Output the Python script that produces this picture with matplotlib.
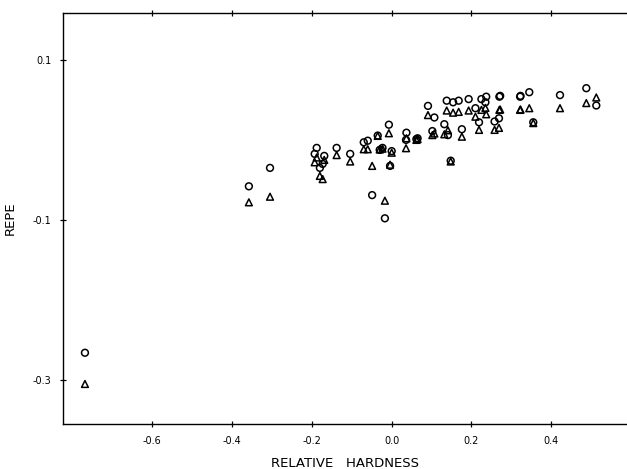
import matplotlib
matplotlib.use("Agg")
import matplotlib.pyplot as plt

# relative hardness of each compound, with the two REPE estimates
hardness = [-0.769, -0.358, -0.305, -0.188, -0.193, -0.180, -0.173, -0.169,
            -0.138, -0.104, -0.070, -0.060, -0.035, -0.007, -0.030, -0.023,
            0.000, -0.049, -0.017, -0.004, 0.037, 0.036, 0.062, 0.065,
            0.091, 0.107, 0.102, 0.138, 0.154, 0.168, 0.132, 0.141,
            0.148, 0.176, 0.193, 0.210, 0.219, 0.225, 0.237, 0.235,
            0.258, 0.269, 0.270, 0.272, 0.322, 0.323, 0.345, 0.355,
            0.422, 0.488, 0.513]
repe_circle = [-0.266, -0.058, -0.035, -0.010, -0.0175, -0.035, -0.030, -0.020,
               -0.010, -0.0175, -0.003, -0.001, 0.0054, 0.019, -0.0125, -0.010,
               -0.014, -0.069, -0.098, -0.0325, 0.009, 0.000, 0.001, 0.002,
               0.0425, 0.028, 0.011, 0.049, 0.047, 0.049, 0.0196, 0.006,
               -0.026, 0.0133, 0.051, 0.0396, 0.022, 0.051, 0.054, 0.047,
               0.023, 0.027, 0.054, 0.055, 0.054, 0.055, 0.0596, 0.022,
               0.056, 0.0646, 0.043]
repe_triangle = [-0.305, -0.078, -0.071, -0.022, -0.028, -0.045, -0.049, -0.025,
                 -0.019, -0.027, -0.0117, -0.0117, 0.005, 0.0083, -0.012, -0.011,
                 -0.016, -0.0325, -0.076, -0.031, 0.002, -0.0104, 0.000, 0.001,
                 0.031, 0.008, 0.006, 0.0367, 0.034, 0.035, 0.007, 0.012,
                 -0.027, 0.004, 0.0367, 0.029, 0.0125, 0.0375, 0.032, 0.040,
                 0.0125, 0.015, 0.0375, 0.038, 0.0375, 0.038, 0.0396, 0.021,
                 0.0396, 0.046, 0.053]

xticks = [-0.6, -0.4, -0.2, 0.0, 0.2, 0.4]
xtick_labels = ["-0.6", "-0.4", "-0.2", "0.0", "0.2", "0.4"]
yticks = [0.1, -0.1, -0.3]
ytick_labels = ["0.1", "-0.1", "-0.3"]

fig = plt.figure(figsize=(6.27, 4.69), dpi=100)
ax = fig.add_axes([0.1005, 0.096, 0.8995, 0.877])

ax.scatter(hardness, repe_circle, s=24, marker="o", facecolors="none",
           edgecolors="black", linewidths=1.1, zorder=3)
ax.scatter(hardness, repe_triangle, s=24, marker="^", facecolors="none",
           edgecolors="black", linewidths=1.1, zorder=3)

ax.set_xlim(-0.824, 0.59)
ax.set_ylim(-0.355, 0.159)

ax.set_xticks(xticks)
ax.set_xticklabels(xtick_labels)
ax.set_yticks(yticks)
ax.set_yticklabels(ytick_labels)

ax.spines["right"].set_visible(False)
for side in ("left", "bottom", "top"):
    ax.spines[side].set_linewidth(1.0)

ax.tick_params(axis="both", direction="inout", length=5, width=0.9,
               labelsize=7, pad=6)
ax.tick_params(axis="x", top=True, labeltop=False)

ax.set_xlabel("RELATIVE   HARDNESS", fontsize=9.5, labelpad=8)
ax.set_ylabel("REPE", fontsize=9.5, labelpad=11)

fig.savefig("out.png", dpi=100)
